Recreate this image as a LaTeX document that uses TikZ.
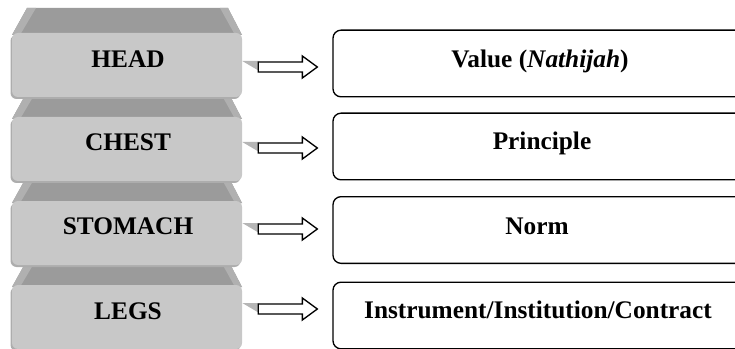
\documentclass[tikz,border=0pt]{standalone}
\usepackage{fontspec}
\setmainfont{Liberation Serif}
\usetikzlibrary{calc}
\definecolor{facegray}{HTML}{C8C8C8}
\definecolor{faceshade}{HTML}{ADADAD}
\definecolor{topgray}{HTML}{9B9B9B}
\definecolor{topedge}{HTML}{B0B0B0}
\definecolor{tabgray}{HTML}{B6B6B6}
\tikzset{
  facebox/.style={fill=facegray, rounded corners=4.5pt, minimum width=172.5pt, minimum height=48pt, inner sep=0pt},
  faceshadow/.style={fill=faceshade, rounded corners=4.5pt},
  toptrap/.style={fill=topgray},
  partlabel/.style={font=\fontsize{19}{21}\selectfont\bfseries, inner sep=0pt, anchor=base},
  valbox/.style={draw=black, line width=1pt, fill=white, rounded corners=6pt, minimum width=309pt, minimum height=50pt, inner sep=0pt},
  vallabel/.style={font=\fontsize{19}{21}\selectfont\bfseries, inner sep=0pt, anchor=base},
  tab/.style={fill=tabgray},
  hollowarrow/.style={draw=black, line width=1pt, fill=white, line join=miter}
}
\begin{document}
\begin{tikzpicture}[x=0.75pt, y=-0.75pt]
\useasboundingbox (0,0) rectangle (735,349);
\clip (0,0) rectangle (735,349);

% bevelled tops of the four stacked blocks
\foreach \T in {8,92,176,260} {
  \fill[toptrap] (27,\T) -- (228,\T) -- (242,\T+27) -- (12,\T+27) -- cycle;
  \fill[topedge] (27,\T) -- (36,\T) -- (20,\T+27) -- (12,\T+27) -- cycle;
  \fill[topedge] (220,\T) -- (228,\T) -- (242,\T+27) -- (235,\T+27) -- cycle;
}

% soft shadow on the left and lower edges of each front face
\fill[faceshadow] (10.5,35) rectangle (240.5,99);
\fill[faceshadow] (10.5,119) rectangle (240.5,183);
\fill[faceshadow] (10.5,203) rectangle (240.5,267);
\fill[faceshadow] (10.5,287) rectangle (240.5,351);

% front faces
\node[facebox] (head)    at (127,65)  {};
\node[facebox] (chest)   at (127,149) {};
\node[facebox] (stomach) at (127,233) {};
\node[facebox] (legs)    at (127,317) {};

\node[partlabel] (headtxt)    at (128,67.7) {HEAD};
\node[partlabel] (chesttxt)   at (128,151)  {CHEST};
\node[partlabel] (stomachtxt) at (128,234)  {STOMACH};
\node[partlabel] (legstxt)    at (128,319)  {LEGS};

% outlined boxes on the right
\node[valbox] (value)     at (539,63.5)  {};
\node[valbox] (principle) at (539,146.5) {};
\node[valbox] (norm)      at (539,230)   {};
\node[valbox] (instr)     at (539,315.5) {};

\node[vallabel] at (540,68)  {Value (\textit{Nathijah})};
\node[vallabel] at (542,150) {Principle};
\node[vallabel] at (537,234) {Norm};
\node[vallabel] at (538,318) {Instrument/Institution/Contract};

% hollow arrows from each block to its box
\foreach \src/\dst/\y in {head/value/67, chest/principle/148, stomach/norm/229, legs/instr/309} {
  \coordinate (\src-a) at ($(\src.east |- 0,\y)+(16,0)$);
  \coordinate (\src-b) at ($(\dst.west |- 0,\y)+(-15,0)$);
  \fill[tab] ($(\src.east |- 0,\y)+(0,-6)$) -- ($(\src-a)+(1,-6)$) -- ($(\src-a)+(1,4)$) -- cycle;
  \draw[hollowarrow] ($(\src-a)+(0,-5)$) -- ($(\src-b)+(-15,-5)$) -- ($(\src-b)+(-15,-11)$)
     -- (\src-b) -- ($(\src-b)+(-15,11)$) -- ($(\src-b)+(-15,5)$) -- ($(\src-a)+(0,5)$) -- cycle;
}
\end{tikzpicture}
\end{document}
